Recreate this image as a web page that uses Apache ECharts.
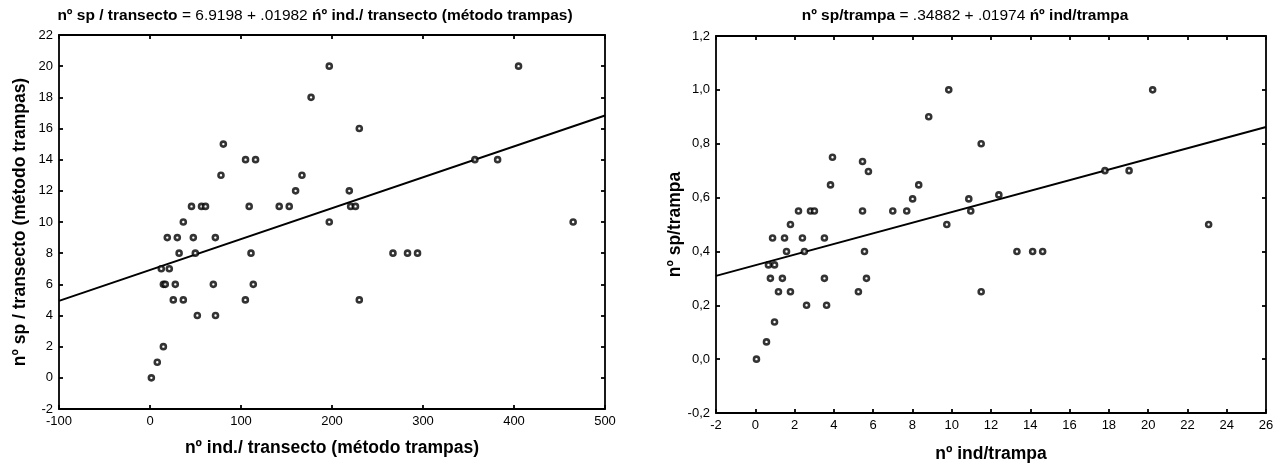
<!DOCTYPE html>
<html><head><meta charset="utf-8">
<script src="https://cdn.jsdelivr.net/npm/echarts@6/dist/echarts.min.js"></script>
<style>html,body{margin:0;padding:0;background:#fff}#c{width:1288px;height:468px}</style>
</head><body><div id="c"></div>
<script>
// Left panel: nº ind./transecto vs nº sp/transecto
const leftX = [1.5, 8, 14.7, 52, 72, 25.6, 36.6, 104.8, 230, 14.7, 16.8, 27.8, 69.6, 113.5, 12.4, 21.2, 32, 49.8, 111, 267, 283, 294, 19, 30, 47.6, 71.8, 36.6, 197, 465, 45.6, 56.6, 61, 109, 142, 153, 220.5, 225.8, 160, 219, 78, 167, 80.6, 105, 116, 357, 382, 230, 177, 197, 405];
const leftY = [0, 1, 2, 4, 4, 5, 5, 5, 5, 6, 6, 6, 6, 6, 7, 7, 8, 8, 8, 8, 8, 8, 9, 9, 9, 9, 10, 10, 10, 11, 11, 11, 11, 11, 11, 11, 11, 12, 12, 13, 13, 15, 14, 14, 14, 14, 16, 18, 20, 20];
// Right panel: nº ind/trampa vs nº sp/trampa
const rightX = [0.06, 0.57, 0.98, 2.61, 3.63, 1.18, 1.79, 5.25, 11.5, 0.77, 1.38, 3.52, 5.66, 0.67, 0.98, 1.59, 2.5, 5.56, 13.32, 14.12, 14.63, 0.88, 1.49, 2.4, 3.52, 1.79, 9.75, 23.08, 2.2, 2.81, 3.01, 5.46, 7.0, 7.71, 10.97, 8.01, 10.87, 12.4, 3.83, 8.32, 5.76, 17.8, 19.03, 5.46, 3.93, 11.5, 8.83, 9.85, 20.23];
const rightY = [0, 0.064, 0.138, 0.2, 0.2, 0.25, 0.25, 0.25, 0.25, 0.3, 0.3, 0.3, 0.3, 0.35, 0.35, 0.4, 0.4, 0.4, 0.4, 0.4, 0.4, 0.45, 0.45, 0.45, 0.45, 0.5, 0.5, 0.5, 0.55, 0.55, 0.55, 0.55, 0.55, 0.55, 0.55, 0.595, 0.595, 0.61, 0.647, 0.647, 0.697, 0.7, 0.7, 0.734, 0.75, 0.8, 0.9, 1.0, 1.0];

const leftXTicks = [-100, 0, 100, 200, 300, 400, 500];
const leftYTicks = [-2, 0, 2, 4, 6, 8, 10, 12, 14, 16, 18, 20, 22];
const rightXTicks = [-2, 0, 2, 4, 6, 8, 10, 12, 14, 16, 18, 20, 22, 24, 26];
const rightYTicks = [-0.2, 0, 0.2, 0.4, 0.6, 0.8, 1.0, 1.2];

const leftFit = [6.9198, 0.01982];
const rightFit = [0.34882, 0.01974];

const FONT = "'Liberation Sans', Arial, sans-serif";
const pairs = (xs, ys) => xs.map((x, i) => [x, ys[i]]);
const fitLine = (fit, ticks) => {
  const a = ticks[0], b = ticks[ticks.length - 1];
  return [[a, fit[0] + fit[1] * a], [b, fit[0] + fit[1] * b]];
};
const rng = t => ({min: t[0], max: t[t.length - 1], interval: +(t[1] - t[0]).toFixed(6)});

const lineStyle = {color: '#000', width: 1.8};
function mainAxis(ticks, gridIndex, pos, name, gap, fmt) {
  return Object.assign({
    type: 'value', gridIndex, position: pos,
    name, nameLocation: 'middle', nameGap: gap,
    nameTextStyle: {fontFamily: FONT, fontSize: 17.5, fontWeight: 'bold', color: '#000'},
    axisLine: {show: true, onZero: false, lineStyle},
    axisTick: {show: true, inside: true, length: 4, lineStyle},
    axisLabel: {show: true, fontFamily: FONT, fontSize: 13, color: '#000', margin: 6,
      showMinLabel: true, showMaxLabel: true, hideOverlap: false,
      formatter: fmt || (v => String(v))},
    splitLine: {show: false}
  }, rng(ticks));
}
function frameAxis(ticks, gridIndex, pos) {
  return Object.assign({
    type: 'value', gridIndex, position: pos,
    axisLine: {show: true, onZero: false, lineStyle},
    axisTick: {show: true, inside: true, length: 4, lineStyle},
    axisLabel: {show: false},
    splitLine: {show: false}
  }, rng(ticks));
}
const commaFmt = v => (Math.round(v * 10) / 10).toFixed(1).replace('.', ',');

const scatterStyle = {color: '#fff', borderColor: '#000', borderWidth: 2.6};
const titleStyle = {fontFamily: FONT, fontSize: 15.5, fontWeight: 'normal', color: '#000',
  rich: {b: {fontFamily: FONT, fontSize: 15.5, fontWeight: 'bold', color: '#000'}}};

const option = {
  animation: false,
  backgroundColor: '#fff',
  title: [
    {
      text: '{b|nº sp / transecto} = 6.9198 + .01982 {b|ńº ind./ transecto (método trampas)}',
      left: 310, top: 3, textAlign: 'center', textStyle: titleStyle
    },
    {
      text: '{b|nº sp/trampa} = .34882 + .01974 {b|ńº ind/trampa}',
      left: 960, top: 3, textAlign: 'center', textStyle: titleStyle
    }
  ],
  grid: [
    {left: 59, right: 683, top: 35, bottom: 59},
    {left: 716, right: 22, top: 36, bottom: 53}
  ],
  xAxis: [
    mainAxis(leftXTicks, 0, 'bottom', 'nº ind./ transecto (método trampas)', 30),
    frameAxis(leftXTicks, 0, 'top'),
    mainAxis(rightXTicks, 1, 'bottom', 'nº ind/trampa', 32),
    frameAxis(rightXTicks, 1, 'top')
  ],
  yAxis: [
    mainAxis(leftYTicks, 0, 'left', 'nº sp / transecto (método trampas)', 30),
    frameAxis(leftYTicks, 0, 'right'),
    mainAxis(rightYTicks, 1, 'left', 'nº sp/trampa', 32, commaFmt),
    frameAxis(rightYTicks, 1, 'right')
  ],
  series: [
    {type: 'line', xAxisIndex: 0, yAxisIndex: 0, data: fitLine(leftFit, leftXTicks),
      showSymbol: false, lineStyle: {color: '#000', width: 2}, silent: true, z: 1},
    {type: 'scatter', xAxisIndex: 0, yAxisIndex: 0, data: pairs(leftX, leftY),
      symbol: 'circle', symbolSize: 5, itemStyle: scatterStyle, silent: true, z: 2},
    {type: 'line', xAxisIndex: 2, yAxisIndex: 2, data: fitLine(rightFit, rightXTicks),
      showSymbol: false, lineStyle: {color: '#000', width: 2}, silent: true, z: 1},
    {type: 'scatter', xAxisIndex: 2, yAxisIndex: 2, data: pairs(rightX, rightY),
      symbol: 'circle', symbolSize: 5, itemStyle: scatterStyle, silent: true, z: 2}
  ]
};
const chart = echarts.init(document.getElementById('c'), null, {renderer: 'canvas'});
chart.setOption(option);
</script>
</body></html>
